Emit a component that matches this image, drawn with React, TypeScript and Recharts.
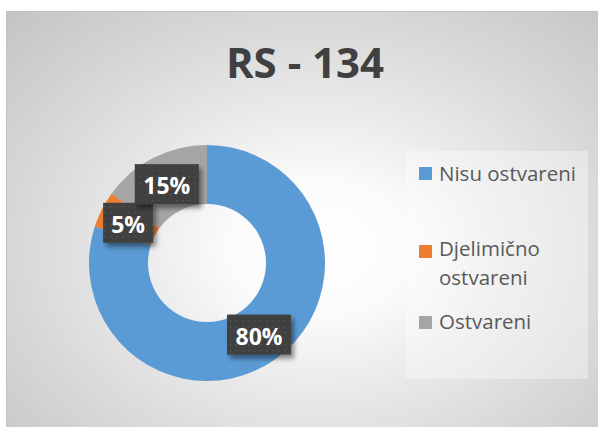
import { Legend, Pie, PieChart, Cell } from "recharts";

// 数据
const categories = ["Nisu ostvareni", "Djelimično ostvareni", "Ostvareni"];
const values = [80, 5, 15];
const colors = ["#5b9bd5", "#ed7d31", "#a5a5a5"];
const title = "RS - 134";

const data = categories.map((name, i) => ({ name, value: values[i] }));

const RAD = Math.PI / 180;
const FONT = "'Open Sans', 'Liberation Sans', sans-serif";

function DataLabel(props: any) {
  const { cx, cy, midAngle, innerRadius, outerRadius, value } = props;
  const r = (innerRadius + outerRadius) / 2;
  const x = cx + r * Math.cos(-midAngle * RAD);
  const y = cy + r * Math.sin(-midAngle * RAD);
  const text = `${value}%`;
  const w = 22 + 14 * text.length;
  const h = 40;
  return (
    <g>
      <rect x={x - w / 2} y={y - h / 2} width={w} height={h} fill="#404040" filter="url(#lblShadow)" />
      <rect x={x - w / 2} y={y - h / 2} width={w} height={h} fill="url(#lblDots)" />
      <text
        x={x}
        y={y + 1}
        textAnchor="middle"
        dominantBaseline="central"
        fill="#ffffff"
        fontFamily={FONT}
        fontWeight={700}
        fontSize={23}
      >
        {text}
      </text>
    </g>
  );
}

function LegendBox() {
  const rows = [
    { top: 8, sq: 16 },
    { top: 83, sq: 94 },
    { top: 156, sq: 165 },
  ];
  return (
    <div style={{ position: "relative", width: 182, height: 228, background: "rgba(255,255,255,0.35)" }}>
      {categories.map((c, i) => (
        <div key={c}>
          <div
            style={{
              position: "absolute",
              left: 13,
              top: rows[i].sq,
              width: 13,
              height: 13,
              background: colors[i],
            }}
          />
          <div
            style={{
              position: "absolute",
              left: 33,
              top: rows[i].top,
              width: 140,
              fontFamily: FONT,
              fontSize: 20.5,
              lineHeight: "29px",
              color: "#595959",
              textAlign: "left",
            }}
          >
            {c}
          </div>
        </div>
      ))}
    </div>
  );
}

export default function App() {
  return (
    <div style={{ position: "absolute", left: 0, top: 0, width: 598, height: 427, background: "#ffffff", overflow: "hidden" }}>
      <div
        style={{
          position: "absolute",
          left: 6,
          top: 11,
          width: 610,
          height: 430,
          border: "1px solid #c2c2c2",
          background:
            "radial-gradient(ellipse farthest-corner at 51% 55%, #ffffff 0%, #fbfbfb 20%, #eaeaea 42%, #d8d8d8 68%, #c4c4c4 100%)",
        }}
      />
      <svg width={598} height={427} style={{ position: "absolute", left: 0, top: 0 }}>
        <defs>
          <filter id="lblShadow" x="-30%" y="-30%" width="160%" height="170%">
            <feDropShadow dx={3} dy={4} stdDeviation={2.5} floodColor="#000000" floodOpacity={0.45} />
          </filter>
          <pattern id="lblDots" width={6} height={6} patternUnits="userSpaceOnUse">
            <rect x={2} y={2} width={1.3} height={1.3} fill="#555555" />
          </pattern>
        </defs>
        <text
          x={305}
          y={78}
          textAnchor="middle"
          fill="#404040"
          fontFamily={FONT}
          fontWeight={700}
          fontSize={42}
        >
          {title}
        </text>
      </svg>
      <div style={{ position: "absolute", left: 0, top: 0 }}>
        <PieChart width={598} height={427} margin={{ top: 0, right: 0, bottom: 0, left: 0 }}>
          <Pie
            data={data}
            dataKey="value"
            nameKey="name"
            cx={207}
            cy={263}
            innerRadius={59}
            outerRadius={118}
            startAngle={90}
            endAngle={-270}
            stroke="none"
            labelLine={false}
            label={DataLabel}
            isAnimationActive={false}
          >
            {data.map((d, i) => (
              <Cell key={d.name} fill={colors[i]} />
            ))}
          </Pie>
          <Legend
            content={() => <LegendBox />}
            wrapperStyle={{ position: "absolute", left: 406, top: 151, width: 182, height: 228 }}
          />
        </PieChart>
      </div>
    </div>
  );
}
